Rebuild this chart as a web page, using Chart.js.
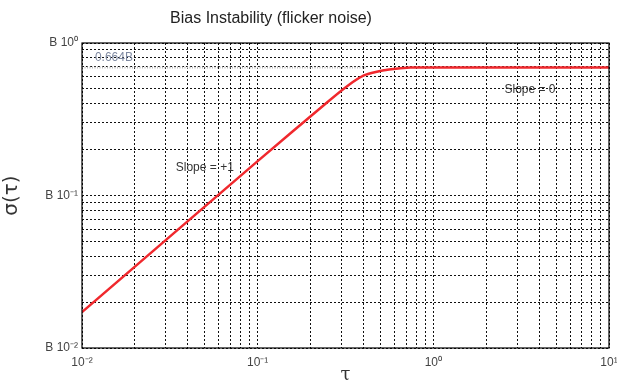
<!DOCTYPE html>
<html>
<head>
<meta charset="utf-8">
<script src="https://cdn.jsdelivr.net/npm/chart.js@4.4.1/dist/chart.umd.min.js"></script>
<style>
  html, body { margin: 0; padding: 0; background: #fff; }
  #wrap { width: 617px; height: 386px; }
</style>
</head>
<body>
<div id="wrap"><canvas id="allan"></canvas></div>
<script>
// curve (tau, sigma)
const tauValues = [0.01, 0.1, 0.25, 0.33, 0.4, 0.47, 0.56, 0.74, 1, 10];
const sigmaValues = [0.0172, 0.168, 0.41, 0.53, 0.61, 0.645, 0.67, 0.69, 0.69, 0.69];

// grey reference level
const levelTau = [0.01, 0.42];
const levelSigma = [0.69, 0.69];

const xMajorTicks = [0.01, 0.1, 1, 10];
const xMajorLabels = ['10⁻²', '10⁻¹', '10⁰', '10¹'];
const yMajorTicks = [0.01, 0.1, 1];
const yMajorLabels = ['B 10⁻²', 'B 10⁻¹', 'B 10⁰'];

const titleText = 'Bias Instability (flicker noise)';

const notes = [
  { text: 'Slope = +1', x: 0.05, y: 0.153 },
  { text: 'Slope = 0', x: 3.55, y: 0.496 },
  { text: '0.664B', x: 0.0152, y: 0.80, color: '#7d88a0' },
];

const logTicks = (min, max) => {
  const out = [];
  for (let d = min; d < max * 0.999; d *= 10) {
    for (let k = 1; k <= 9; k++) out.push(+(k * d).toPrecision(3));
  }
  out.push(max);
  return out;
};

const fontFam = '"Liberation Sans Narrow", "Liberation Sans", Arial, sans-serif';

const gridStyle = {
  color: '#111',
  lineWidth: 1,
  drawTicks: false,
};

const boxPlugin = {
  id: 'box',
  afterDraw(chart) {
    const { ctx, chartArea: a, scales } = chart;
    ctx.save();
    ctx.strokeStyle = '#000';
    ctx.lineWidth = 1.2;
    ctx.strokeRect(a.left, a.top, a.right - a.left, a.bottom - a.top);

    ctx.fillStyle = '#222';
    ctx.font = '16px ' + fontFam;
    ctx.textAlign = 'center';
    ctx.textBaseline = 'middle';
    ctx.fillText(titleText, 271, 19);

    ctx.font = '12px ' + fontFam;
    notes.forEach((n) => {
      const px = scales.x.getPixelForValue(n.x);
      const py = scales.y.getPixelForValue(n.y);
      ctx.fillStyle = n.color || '#333';
      ctx.fillText(n.text, px, py);
    });
    ctx.restore();
  },
};

new Chart(document.getElementById('allan').getContext('2d'), {
  type: 'line',
  data: {
    datasets: [
      {
        label: 'level',
        data: levelTau.map((t, i) => ({ x: t, y: levelSigma[i] })),
        borderColor: '#bbbbbb',
        borderWidth: 2,
        borderDash: [1, 1.5],
        pointRadius: 0,
        fill: false,
      },
      {
        label: 'sigma',
        data: tauValues.map((t, i) => ({ x: t, y: sigmaValues[i] })),
        borderColor: '#f0282d',
        borderWidth: 2.5,
        pointRadius: 0,
        tension: 0.25,
        fill: false,
      },
    ],
  },
  options: {
    responsive: true,
    maintainAspectRatio: false,
    animation: false,
    layout: { padding: { left: 0, right: 8, top: 43, bottom: 0 } },
    plugins: {
      legend: { display: false },
      tooltip: { enabled: false },
      title: { display: false },
    },
    scales: {
      x: {
        type: 'logarithmic',
        min: 0.01,
        max: 10,
        afterBuildTicks: (s) => {
          s.ticks = logTicks(0.01, 10).map((v) => ({ value: v }));
        },
        afterFit: (s) => {
          s.height = 38;
          s.paddingLeft = 0;
          s.paddingRight = 0;
        },
        grid: { ...gridStyle },
        border: { display: false, dash: [2, 2] },
        ticks: {
          autoSkip: false,
          maxRotation: 0,
          color: '#444',
          padding: 7,
          font: { family: fontFam, size: 12 },
          callback: (v) => {
            const i = xMajorTicks.findIndex((m) => Math.abs(m - v) < m * 1e-6);
            return i >= 0 ? xMajorLabels[i] : '';
          },
        },
        title: {
          display: true,
          text: 'τ',
          color: '#333',
          font: { family: 'DejaVu Serif, serif', size: 18 },
          padding: { top: 0, bottom: 0 },
        },
      },
      y: {
        type: 'logarithmic',
        min: 0.01,
        max: 1,
        afterBuildTicks: (s) => {
          s.ticks = logTicks(0.01, 1).map((v) => ({ value: v }));
        },
        afterFit: (s) => { s.width = 82; },
        grid: { ...gridStyle },
        border: { display: false, dash: [2, 2] },
        ticks: {
          autoSkip: false,
          color: '#444',
          padding: 4,
          font: { family: fontFam, size: 12 },
          callback: (v) => {
            const i = yMajorTicks.findIndex((m) => Math.abs(m - v) < m * 1e-6);
            return i >= 0 ? yMajorLabels[i] : '';
          },
        },
        title: {
          display: true,
          text: 'σ(τ)',
          color: '#333',
          font: { family: 'DejaVu Sans, sans-serif', size: 20 },
          padding: { top: 0, bottom: 4 },
        },
      },
    },
  },
  plugins: [boxPlugin],
});
</script>
</body>
</html>
